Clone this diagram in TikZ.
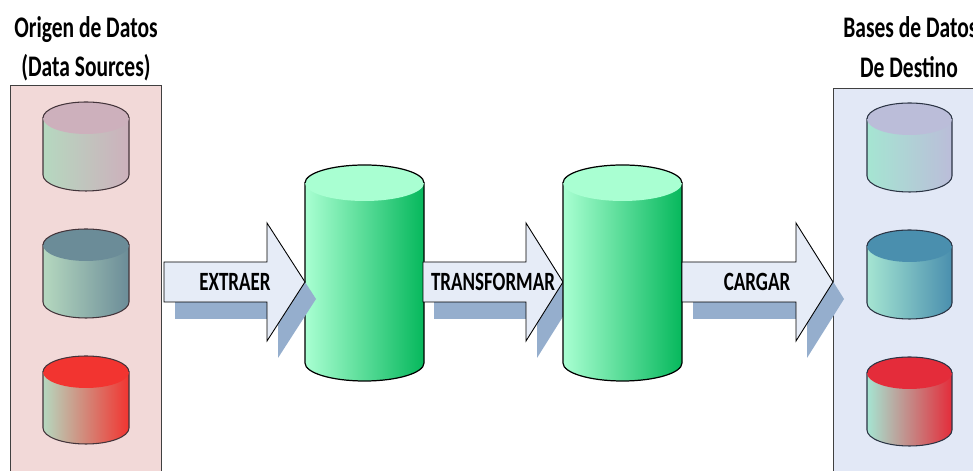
\documentclass[tikz,border=0pt]{standalone}
\usepackage{fontspec}
\setmainfont[FakeStretch=0.72]{Carlito}
\definecolor{panelred}{HTML}{F2D9D8}
\definecolor{panelblue}{HTML}{E2E8F6}
\definecolor{arrowfill}{HTML}{E6ECF7}
\definecolor{arrowshade}{HTML}{95AECD}
\definecolor{srcleft}{HTML}{B5D8BF}
\definecolor{dstleft}{HTML}{A5E5D2}
\definecolor{srcmauve}{HTML}{CDB0BC}
\definecolor{srcslate}{HTML}{6B8C98}
\definecolor{srcred}{HTML}{F23430}
\definecolor{dstlilac}{HTML}{BBBDD9}
\definecolor{dstteal}{HTML}{4A8FAE}
\definecolor{dstred}{HTML}{E42C3A}
\definecolor{stageleft}{HTML}{A9FFD2}
\definecolor{stageright}{HTML}{06B85C}
\definecolor{srcline}{HTML}{43343A}
\definecolor{dstline}{HTML}{2B3444}
\tikzset{
  title/.style={font=\bfseries\fontsize{17}{20}\selectfont,inner sep=0pt},
  arrowtext/.style={font=\bfseries\fontsize{15}{18}\selectfont,inner sep=0pt},
  panel/.style={draw=black!75,line width=0.5pt},
  blockarrow/.style={draw=black,line width=0.5pt,fill=arrowfill},
  blockshadow/.style={fill=arrowshade,shift={(0.22,-0.34)}},
  srccyl/.style={draw=srcline,line width=0.6pt},
  dstcyl/.style={draw=dstline,line width=0.6pt},
  stagecyl/.style={draw=black,line width=0.7pt}
}

\begin{document}
\begin{tikzpicture}
\useasboundingbox (0,0) rectangle (19.46,9.42);
% panels
\draw [panel,fill=panelred] (0.2,0) -- (0.2,7.72) -- (3.22,7.72) -- (3.22,0);
\fill [panelblue] (16.66,0) rectangle (19.46,7.66);
\draw [panel] (16.66,0) -- (16.66,7.66) -- (19.46,7.66);
% source databases
\draw [srccyl,left color=srcleft,right color=srcmauve] (0.86,7.06) -- (0.86,5.92) arc [x radius=0.86,y radius=0.32,start angle=180,end angle=360] -- (2.58,7.06) -- cycle;
\fill [srcmauve] (1.72,7.06) ellipse [x radius=0.86,y radius=0.32];
\draw [srccyl] (0.86,7.06) arc [x radius=0.86,y radius=0.32,start angle=180,end angle=0];
\draw [srccyl,left color=srcleft,right color=srcslate] (0.86,4.52) -- (0.86,3.38) arc [x radius=0.86,y radius=0.32,start angle=180,end angle=360] -- (2.58,4.52) -- cycle;
\fill [srcslate] (1.72,4.52) ellipse [x radius=0.86,y radius=0.32];
\draw [srccyl] (0.86,4.52) arc [x radius=0.86,y radius=0.32,start angle=180,end angle=0];
\draw [srccyl,left color=srcleft,right color=srcred] (0.86,1.98) -- (0.86,0.86) arc [x radius=0.86,y radius=0.32,start angle=180,end angle=360] -- (2.58,1.98) -- cycle;
\fill [srcred] (1.72,1.98) ellipse [x radius=0.86,y radius=0.32];
\draw [srccyl] (0.86,1.98) arc [x radius=0.86,y radius=0.32,start angle=180,end angle=0];
% target databases
\draw [dstcyl,left color=dstleft,right color=dstlilac] (17.34,7.04) -- (17.34,5.90) arc [x radius=0.85,y radius=0.32,start angle=180,end angle=360] -- (19.04,7.04) -- cycle;
\fill [dstlilac] (18.19,7.04) ellipse [x radius=0.85,y radius=0.32];
\draw [dstcyl] (17.34,7.04) arc [x radius=0.85,y radius=0.32,start angle=180,end angle=0];
\draw [dstcyl,left color=dstleft,right color=dstteal] (17.34,4.50) -- (17.34,3.36) arc [x radius=0.85,y radius=0.32,start angle=180,end angle=360] -- (19.04,4.50) -- cycle;
\fill [dstteal] (18.19,4.50) ellipse [x radius=0.85,y radius=0.32];
\draw [dstcyl] (17.34,4.50) arc [x radius=0.85,y radius=0.32,start angle=180,end angle=0];
\draw [dstcyl,left color=dstleft,right color=dstred] (17.34,1.96) -- (17.34,0.82) arc [x radius=0.85,y radius=0.32,start angle=180,end angle=360] -- (19.04,1.96) -- cycle;
\fill [dstred] (18.19,1.96) ellipse [x radius=0.85,y radius=0.32];
\draw [dstcyl] (17.34,1.96) arc [x radius=0.85,y radius=0.32,start angle=180,end angle=0];
% first stage
\draw [stagecyl,left color=stageleft,right color=stageright] (6.10,5.76) -- (6.10,2.16) arc [x radius=1.19,y radius=0.36,start angle=180,end angle=360] -- (8.48,5.76) -- cycle;
\fill [stageleft] (7.29,5.76) ellipse [x radius=1.19,y radius=0.36];
\draw [stagecyl] (6.10,5.76) arc [x radius=1.19,y radius=0.36,start angle=180,end angle=0];
% extract
\fill [blockshadow] (3.28,4.18) -- (5.34,4.18) -- (5.34,4.96) -- (6.10,3.78) -- (5.34,2.60) -- (5.34,3.38) -- (3.28,3.38) -- cycle;
\draw [blockarrow] (3.28,4.18) -- (5.34,4.18) -- (5.34,4.96) -- (6.10,3.78) -- (5.34,2.60) -- (5.34,3.38) -- (3.28,3.38) -- cycle;
% transform
\fill [blockshadow] (8.46,4.18) -- (10.52,4.18) -- (10.52,4.96) -- (11.26,3.78) -- (10.52,2.60) -- (10.52,3.38) -- (8.46,3.38) -- cycle;
\draw [blockarrow] (8.46,4.18) -- (10.52,4.18) -- (10.52,4.96) -- (11.26,3.78) -- (10.52,2.60) -- (10.52,3.38) -- (8.46,3.38) -- cycle;
% second stage
\draw [stagecyl,left color=stageleft,right color=stageright] (11.26,5.76) -- (11.26,2.16) arc [x radius=1.19,y radius=0.36,start angle=180,end angle=360] -- (13.64,5.76) -- cycle;
\fill [stageleft] (12.45,5.76) ellipse [x radius=1.19,y radius=0.36];
\draw [stagecyl] (11.26,5.76) arc [x radius=1.19,y radius=0.36,start angle=180,end angle=0];
% load
\fill [blockshadow] (13.64,4.18) -- (15.92,4.18) -- (15.92,4.96) -- (16.66,3.78) -- (15.92,2.60) -- (15.92,3.38) -- (13.64,3.38) -- cycle;
\draw [blockarrow] (13.64,4.18) -- (15.92,4.18) -- (15.92,4.96) -- (16.66,3.78) -- (15.92,2.60) -- (15.92,3.38) -- (13.64,3.38) -- cycle;
% labels
\node (extraer) at (4.70,3.78) [arrowtext] {EXTRAER};
\node (transformar) at (9.86,3.78) [arrowtext] {TRANSFORMAR};
\node (cargar) at (15.14,3.78) [arrowtext] {CARGAR};
\node (origen) at (1.72,8.83) [title] {Origen de Datos};
\node (sources) at (1.72,8.07) [title] {(Data Sources)};
\node (bases) at (16.86,8.88) [title,anchor=west] {Bases de Datos};
\node (destino) at (18.18,8.08) [title] {De Destino};
\end{tikzpicture}
\end{document}
